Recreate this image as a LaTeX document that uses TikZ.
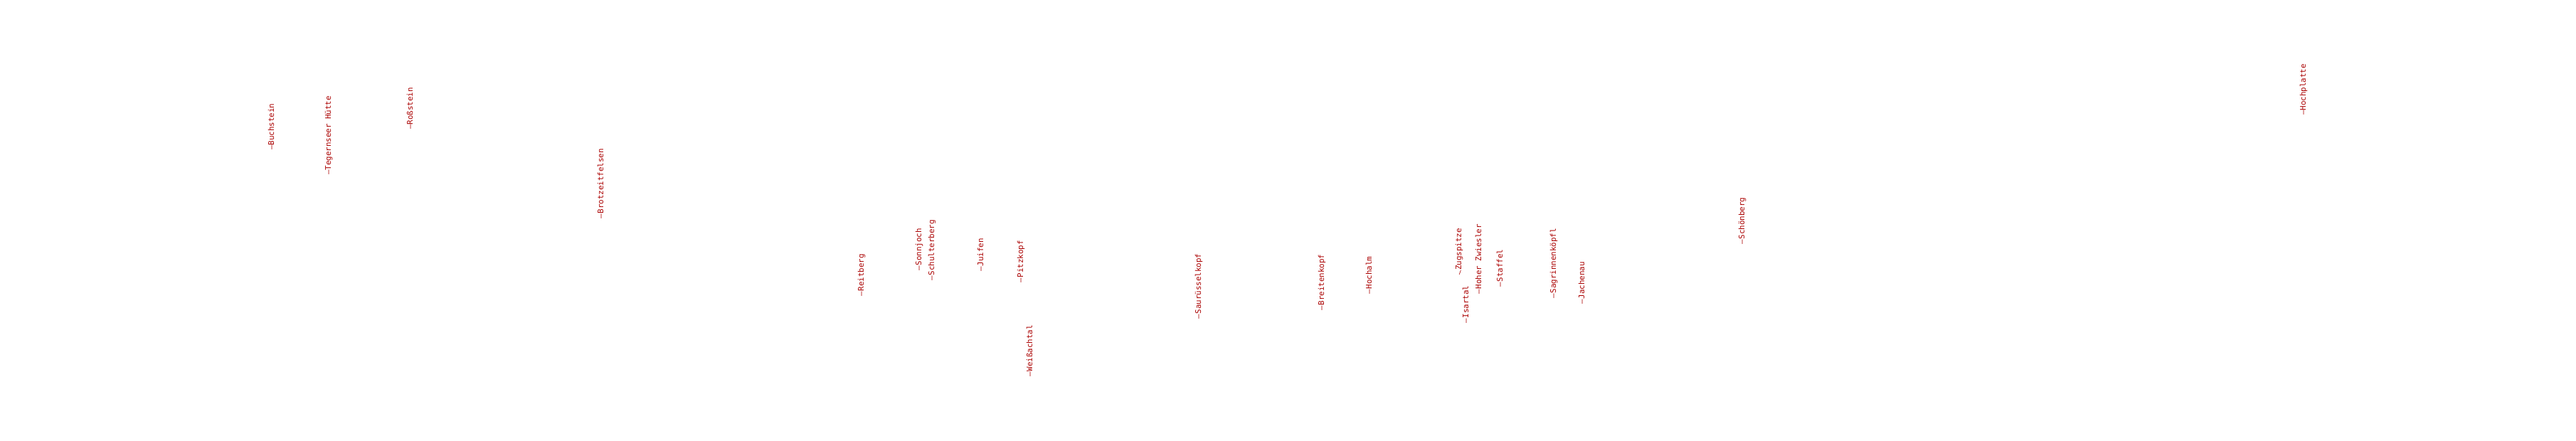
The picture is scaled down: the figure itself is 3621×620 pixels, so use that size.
\documentclass[tikz,border=0pt]{standalone}
\usepackage{fontspec}
\setmonofont{DejaVu Sans Mono}
\usepackage{graphicx}
\definecolor{peakred}{RGB}{170,0,0}
\tikzset{
  peak/.style={rotate=90, anchor=mid west, inner sep=0pt, outer sep=0pt,
    text=peakred, font=\ttfamily\fontsize{10.8}{12}\selectfont}
}
\begin{document}
\begin{tikzpicture}[x=1pt,y=-1pt]
\useasboundingbox (0,0) rectangle (3621,620);
\node[peak] (buchstein) at (383,211) {—Buchstein};
\node[peak] (tegernseer) at (463,246) {—Tegernseer Hütte};
\node[peak] (rossstein) at (578,182) {—Roßstein};
\node[peak] (brotzeit) at (846,307) {—Brotzeitfelsen};
\node[peak] (reitberg) at (1212,416) {—Reitberg};
\node[peak] (sonnjoch) at (1293,380) {—Sonnjoch};
\node[peak] (schulterberg) at (1311,394) {—Schulterberg};
\node[peak] (juifen) at (1380,381) {—Juifen};
\node[peak] (pitzkopf) at (1436,397) {—Pitzkopf};
\node[peak] (weissachtal) at (1449,529) {—Weißachtal};
\node[peak] (saur) at (1686,448) {—Saurüsselkopf};
\node[peak] (breitenkopf) at (1859,436) {—Breitenkopf};
\node[peak] (hochalm) at (1926,413) {—Hochalm};
\node[peak] (zugspitze) at (2052,387) {\rotatebox{-20}{—}Zugspitze};
\node[peak] (isartal) at (2062,454) {—Isartal};
\node[peak] (zwiesler) at (2080,413) {—Hoher Zwiesler};
\node[peak] (staffel) at (2110,403) {—Staffel};
\node[peak] (sagrinnen) at (2185,419) {—Sagrinnenköpfl};
\node[peak] (jachenau) at (2225,427) {—Jachenau};
\node[peak] (schoenberg) at (2450,343) {—Schönberg};
\node[peak] (hochplatte) at (3239,162) {—Hochplatte};
\end{tikzpicture}
\end{document}
